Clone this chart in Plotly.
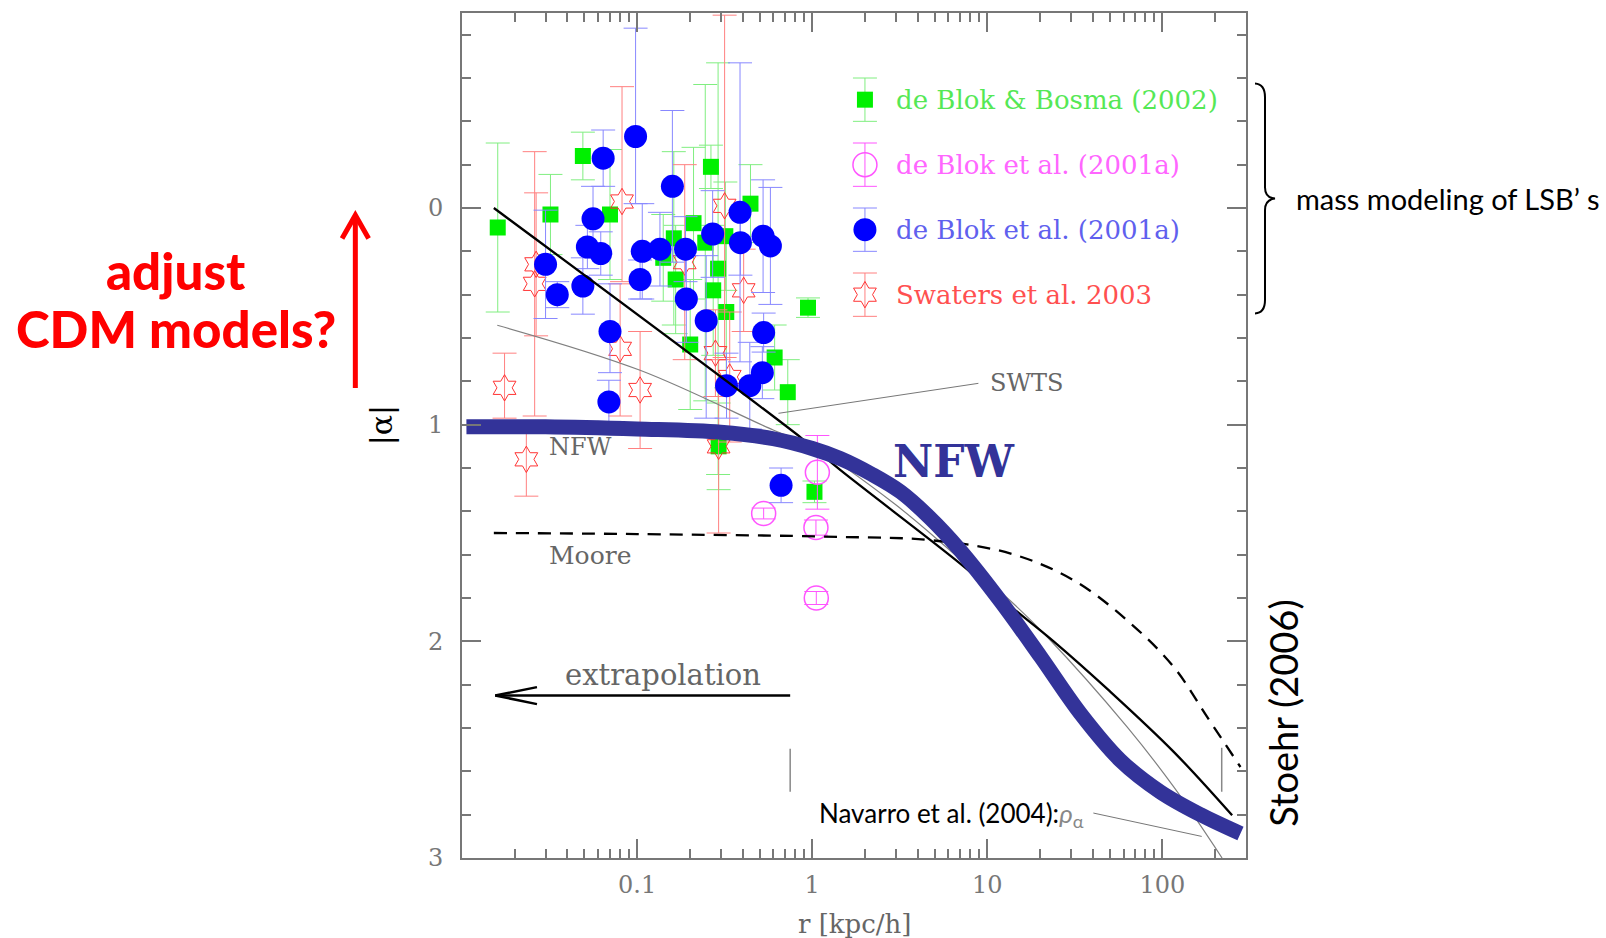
import numpy as np
import plotly.graph_objects as go

# ---------------- data ----------------
# de Blok et al. (2001a) - blue filled circles
blue_r = [0.098, 0.064, 0.159, 0.056, 0.387, 0.052, 0.062, 0.107, 0.135, 0.189, 0.270, 0.389, 0.524,
          0.577, 0.030, 0.035, 0.049, 0.104, 0.191, 0.248, 0.070, 0.528, 0.519, 0.440, 0.324, 0.069, 0.664]
blue_a = [-0.33, -0.23, -0.10, 0.05, 0.02, 0.18, 0.21, 0.20, 0.19, 0.19, 0.12, 0.16, 0.13,
          0.175, 0.26, 0.40, 0.36, 0.33, 0.42, 0.52, 0.57, 0.575, 0.76, 0.82, 0.82, 0.895, 1.28]
blue_em = [0.50, 0.13, 0.35, 0.15, 0.69, 0.10, 0.10, 0.22, 0.17, 0.15, 0.20, 0.15, 0.26,
           0.27, 0.25, 0.06, 0.13, 0.09, 0.20, 0.30, 0.22, 0.09, 0.12, 0.20, 0.15, 0.10, 0.08]
blue_ep = [0.31, 0.13, 0.35, 0.15, 0.69, 0.10, 0.10, 0.22, 0.17, 0.15, 0.20, 0.15, 0.26,
           0.27, 0.25, 0.06, 0.13, 0.09, 0.20, 0.45, 0.19, 0.09, 0.12, 0.20, 0.15, 0.09, 0.08]

# de Blok & Bosma (2002) - green squares
green_r = [0.016, 0.049, 0.032, 0.070, 0.264, 0.444, 0.162, 0.210, 0.245, 0.319, 0.141, 0.166, 0.290,
           0.272, 0.323, 0.201, 0.946, 0.610, 0.725, 0.292, 1.03]
green_a = [0.09, -0.24, 0.03, 0.03, -0.19, -0.02, 0.14, 0.07, 0.16, 0.13, 0.23, 0.33, 0.28,
           0.38, 0.48, 0.63, 0.46, 0.69, 0.85, 1.10, 1.31]
green_e = [0.39, 0.11, 0.185, 0.30, 0.10, 0.18, 0.40, 0.35, 0.73, 0.25, 0.20, 0.25, 0.95,
           0.30, 0.35, 0.30, 0.045, 0.15, 0.15, 0.20, 0.05]

# Swaters et al. 2003 - red open stars
red_r = [0.082, 0.316, 0.0265, 0.026, 0.0175, 0.0233, 0.080, 0.104, 0.187, 0.280, 0.338, 0.406, 0.292]
red_a = [-0.03, -0.01, 0.26, 0.35, 0.83, 1.16, 0.65, 0.84, 0.25, 0.67, 0.78, 0.38, 1.10]
red_em = [0.53, 0.88, 0.33, 0.61, 0.16, 0.16, 0.30, 0.27, 0.45, 0.20, 0.30, 0.19, 0.40]
red_ep = [0.37, 0.70, 0.33, 0.61, 0.14, 0.17, 0.31, 0.27, 0.45, 0.20, 0.30, 0.19, 0.40]

# de Blok et al. (2001a) - magenta open circles
mag_r = [1.07, 0.528, 1.05, 1.055]
mag_a = [1.22, 1.41, 1.475, 1.80]
mag_e = [0.17, 0.025, 0.035, 0.03]

# model curves
nfw_r = [0.0106, 0.03, 0.1, 0.3, 0.6, 1.0, 1.45, 2.2, 3.19, 4.7, 7.0, 11.9, 20.1, 34.0, 57.5, 97.3, 165, 279]
nfw_a = [1.01, 1.01, 1.02, 1.035, 1.065, 1.11, 1.157, 1.23, 1.31, 1.43, 1.58, 1.815, 2.07, 2.333, 2.549,
         2.695, 2.80, 2.887]

pow_r = [0.0152, 0.875, 1.45, 7.0, 13.0, 23.9, 50.0, 116, 250]
pow_a = [0.0, 1.064, 1.21, 1.641, 1.826, 2.0, 2.23, 2.51, 2.803]

ein_r = [0.0159, 0.104, 0.603, 1.0, 3.0, 7.0, 13.0, 22.0, 62.8, 116, 219]
ein_a = [0.541, 0.749, 1.026, 1.10, 1.37, 1.62, 1.80, 1.98, 2.395, 2.672, 3.0]

moore_r = [0.0152, 0.1, 1.45, 4.73, 13.6, 31.1, 62.8, 116, 180, 279]
moore_a = [1.5, 1.505, 1.518, 1.533, 1.595, 1.718, 1.903, 2.118, 2.349, 2.58]

# legend entries (drawn inside the plot, as in the original)
leg_labels = ["de Blok & Bosma (2002)", "de Blok et al. (2001a)", "de Blok et al. (2001a)", "Swaters et al. 2003"]
leg_y = [-0.5, -0.2, 0.1, 0.4]
leg_r = 2.0
leg_text_r = 2.92

x_tickvals = [0.1, 1, 10, 100]
x_ticktext = ["0.1", "1", "10", "100"]
x_minor = [m * d for d in (0.01, 0.1, 1, 10) for m in range(2, 10)] + [200, 300]
y_tickvals = [0, 1, 2, 3]

# ---------------- styling ----------------
SERIF = "DejaVu Serif"
SANS = "Lato"
GREEN, GREEN_E, GREEN_T = "#00f000", "#80ee80", "#55e855"
BLUE, BLUE_E, BLUE_T = "#0000ff", "#8888ff", "#6060ee"
MAG, MAG_T = "#ff55ff", "#ff66ff"
RED, RED_E, RED_T = "#ff3333", "#ff8080", "#ff5050"
NFWC = "#333399"
GRAY = "#777777"

# plot-area pixel frame (for placing decorations)
L, R, T, B = 461.7, 1246.0, 12.7, 858.3
W, H = R - L, B - T


def px(x, y):
    return (x - L) / W, (B - y) / H


fig = go.Figure()


def errset(ep, em, color):
    return dict(type="data", symmetric=False, array=ep, arrayminus=em,
                color=color, thickness=1, width=12)


# data points
fig.add_trace(go.Scatter(x=green_r, y=green_a, mode="markers",
                         marker=dict(symbol="square", size=16, color=GREEN, line=dict(width=0)),
                         error_y=errset(green_e, green_e, GREEN_E)))
fig.add_trace(go.Scatter(x=red_r, y=red_a, mode="markers",
                         marker=dict(symbol="hexagram-open", size=20, color=RED, line=dict(width=1, color=RED)),
                         error_y=errset(red_ep, red_em, RED_E)))
fig.add_trace(go.Scatter(x=mag_r, y=mag_a, mode="markers",
                         marker=dict(symbol="circle-open", size=24, color=MAG, line=dict(width=1.5, color=MAG)),
                         error_y=errset(mag_e, mag_e, MAG)))
fig.add_trace(go.Scatter(x=blue_r, y=blue_a, mode="markers",
                         marker=dict(symbol="circle", size=23, color=BLUE, line=dict(width=0)),
                         error_y=errset(blue_ep, blue_em, BLUE_E)))

# legend markers
leg_styles = [
    (dict(symbol="square", size=16, color=GREEN, line=dict(width=0)), GREEN_E, GREEN_T),
    (dict(symbol="circle-open", size=24, color=MAG, line=dict(width=1.5, color=MAG)), MAG, MAG_T),
    (dict(symbol="circle", size=23, color=BLUE, line=dict(width=0)), BLUE_E, BLUE_T),
    (dict(symbol="hexagram-open", size=20, color=RED, line=dict(width=1, color=RED)), RED_E, RED_T),
]
for (mk, ec, tc), yy, lab in zip(leg_styles, leg_y, leg_labels):
    fig.add_trace(go.Scatter(x=[leg_r], y=[yy], mode="markers", marker=mk,
                             error_y=dict(type="constant", value=0.1, color=ec, thickness=1, width=12)))
    fig.add_annotation(x=np.log10(leg_text_r), y=yy, xref="x", yref="y", text=lab, showarrow=False,
                       xanchor="left", yanchor="middle", font=dict(family=SERIF, size=26, color=tc))

# model curves
fig.add_trace(go.Scatter(x=ein_r, y=ein_a, mode="lines",
                         line=dict(color="#808080", width=1.2, shape="spline")))
fig.add_trace(go.Scatter(x=pow_r, y=pow_a, mode="lines",
                         line=dict(color="black", width=2.3, shape="spline", smoothing=1.0)))
fig.add_trace(go.Scatter(x=moore_r, y=moore_a, mode="lines",
                         line=dict(color="black", width=2.3, dash="13px,9px", shape="spline")))
fig.add_trace(go.Scatter(x=nfw_r, y=nfw_a, mode="lines",
                         line=dict(color=NFWC, width=15, shape="spline", smoothing=1.0)))

# ---------------- decorations ----------------
shapes = []


def seg(x0, y0, x1, y1, color, width):
    a0, b0 = px(x0, y0)
    a1, b1 = px(x1, y1)
    shapes.append(dict(type="line", xref="paper", yref="paper", x0=a0, y0=b0, x1=a1, y1=b1,
                       line=dict(color=color, width=width)))


def path(cmds, color, width):
    s = ""
    for c, *pts in cmds:
        s += c
        for i in range(0, len(pts), 2):
            a, b = px(pts[i], pts[i + 1])
            s += f" {a:.5f},{b:.5f}"
        s += " "
    shapes.append(dict(type="path", xref="paper", yref="paper", path=s.strip(),
                       line=dict(color=color, width=width)))


seg(778.3, 413.3, 978.3, 383.3, GRAY, 1)           # SWTS leader
seg(1093.3, 813.3, 1201.7, 836.7, GRAY, 1)          # Navarro leader
seg(790, 749, 790, 792, "#888888", 1.5)
seg(1221.7, 748, 1221.7, 792, "#888888", 1.5)
seg(495, 695.7, 790, 695.7, "black", 2.5)           # extrapolation arrow
path([("M", 536.7, 687.3), ("L", 495, 695.7), ("L", 536.7, 704.3)], "black", 2.5)
seg(355, 388, 355, 218, "#ff0000", 5)               # red arrow
path([("M", 341.7, 238.3), ("L", 355, 215), ("L", 368.3, 238.3)], "#ff0000", 5)
path([("M", 1255, 83.3), ("Q", 1265, 84, 1265, 97), ("L", 1265, 187), ("Q", 1265, 197.5, 1275, 198.3),
      ("Q", 1265, 199.5, 1265, 210), ("L", 1265, 300), ("Q", 1265, 313, 1255, 313.3)], "black", 2)


def note(x, y, text, size, color, family=SERIF, xanchor="left", angle=0, weight="normal"):
    a, b = px(x, y)
    fig.add_annotation(x=a, y=b, xref="paper", yref="paper", text=text, showarrow=False,
                       xanchor=xanchor, yanchor="middle", textangle=angle,
                       font=dict(family=family, size=size, color=color, weight=weight))


note(988, 383, "SWTS", 24, "#666666")
note(546.7, 447, "NFW", 24, "#666666")
note(546.7, 556, "Moore", 25, "#666666")
note(663, 675, "extrapolation", 29, "#666666", xanchor="center")
note(953, 462, "NFW", 44, NFWC, xanchor="center", weight="bold")
note(854, 924, "r [kpc/h]", 26, "#666666", xanchor="center")
note(381, 425, "|α|", 30, "black", xanchor="center", angle=-90)
note(817, 815, "Navarro et al. (2004):<span style='color:#888888'><i>ρ</i><sub>α</sub></span>", 26, "black",
     family=SANS)
note(1283, 713, "Stoehr (2006)", 38, "black", family=SANS, xanchor="center", angle=-90)
note(1294, 198, "mass modeling of LSB’ s", 29, "black", family=SANS)
note(176, 270, "adjust", 51, "#ff0000", family=SANS, xanchor="center", weight=900)
note(176, 328, "CDM models?", 51, "#ff0000", family=SANS, xanchor="center", weight=900)

axis_common = dict(showgrid=False, zeroline=False, showline=True, linecolor=GRAY, linewidth=2,
                   mirror="allticks", ticks="inside", ticklen=19, tickwidth=1.5, tickcolor=GRAY,
                   tickfont=dict(family=SERIF, size=24, color="#777777"))

fig.update_layout(
    width=1606, height=938, autosize=False,
    margin=dict(l=L, r=1606 - R, t=T, b=938 - B, pad=0),
    paper_bgcolor="white", plot_bgcolor="white",
    showlegend=False,
    shapes=shapes,
    xaxis=dict(type="log", range=[-2, np.log10(300)], tickvals=x_tickvals, ticktext=x_ticktext,
               ticklabelstandoff=4,
               minor=dict(ticks="inside", ticklen=9, tickwidth=1.5, tickcolor=GRAY, showgrid=False,
                          tickvals=x_minor),
               **axis_common),
    yaxis=dict(range=[3, -0.9], tickvals=y_tickvals, ticklabelstandoff=12,
               minor=dict(ticks="inside", ticklen=9, tickwidth=1.5, tickcolor=GRAY, dtick=0.2, tick0=0,
                          showgrid=False),
               **axis_common),
)

fig.write_html("out.html", config={"displayModeBar": False})
